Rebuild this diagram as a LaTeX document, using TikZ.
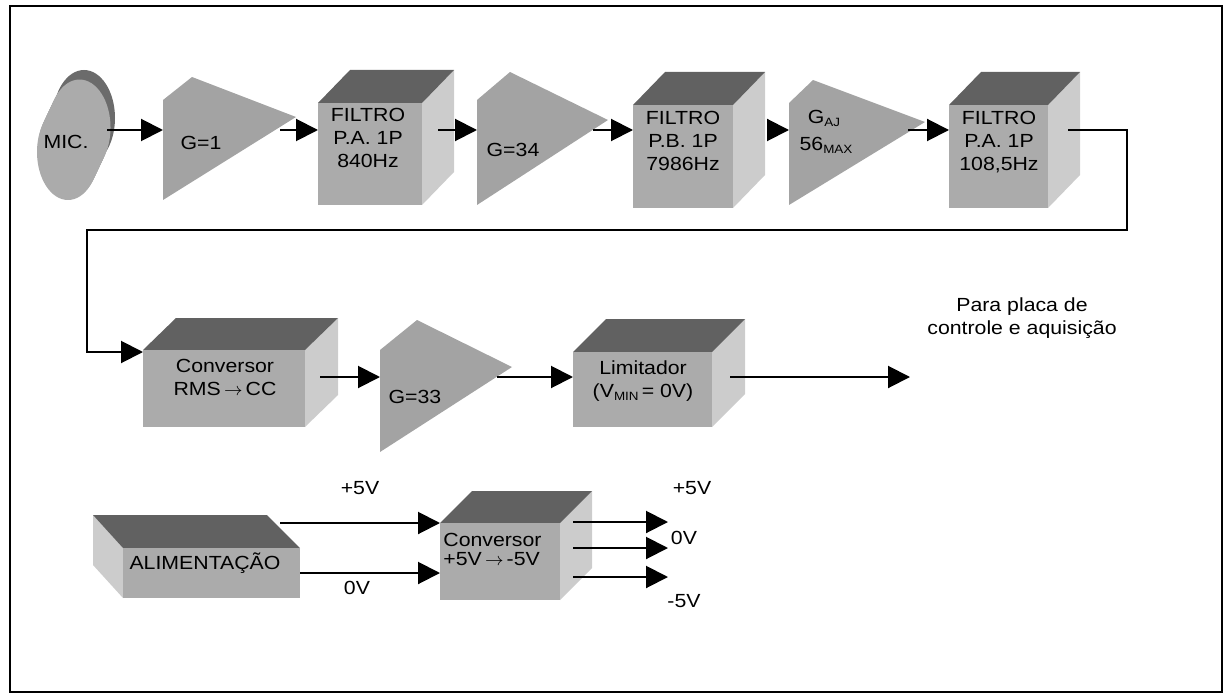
\documentclass[tikz,border=0pt]{standalone}
\usepackage{fontspec}
\setmainfont[FakeStretch=1.12]{Liberation Sans}
\usetikzlibrary{arrows.meta}
\tikzset{
  arr/.style={line width=1pt, -{Triangle[length=11pt,width=11pt]}},
  wire/.style={line width=1pt},
  frontf/.style={fill=black!33},
  topf/.style={fill=black!62},
  sidef/.style={fill=black!20},
  ampf/.style={fill=black!36},
  lbl/.style={font=\fontsize{9.5}{11.5}\selectfont, inner sep=0pt, align=center},
}
\newcommand\sub[1]{{\fontsize{6}{6}\selectfont\raisebox{-1.5pt}{#1}}}
\newcommand\rarr{\,$\rightarrow$\,}
% name, x, y, w, h  (front face, top-left corner, image pixels)
\newcommand\mybox[5]{%
  \fill[sidef] (#2+#4,#3) -- ++(32,-33) -- ++(0,#5) -- (#2+#4,#3+#5) -- cycle;
  \fill[topf] (#2,#3) -- ++(32,-33) -- ++(#4,0) -- (#2+#4,#3) -- cycle;
  \node[frontf, draw=none, inner sep=0pt, anchor=north west,
        minimum width=#4*0.5pt, minimum height=#5*0.5pt] (#1) at (#2,#3) {};
}
\begin{document}
\begin{tikzpicture}[x=0.5pt, y=-0.5pt]
\useasboundingbox (0,0) rectangle (1224,695);
\draw[line width=1pt] (10,6) rectangle (1222,692);

% ---------- row 1 ----------
% MIC cylinder
\fill[black!58] (84,118) ellipse [x radius=15.5pt, y radius=24pt];
\foreach \t in {0,0.04,...,0.72}
  \fill[black!33] ({68+16*\t},{152-34*\t}) ellipse [x radius=15.5pt, y radius=24pt];
\node[lbl] (mic) at (66,142) {MIC.};
\coordinate (micout) at (107,130);

% G=1
\fill[ampf] (163,100) -- (192,77) -- (296,117) -- (163,200) -- cycle;
\node[lbl] (g1) at (201,143) {G=1};
\coordinate (g1in) at (163,130);
\coordinate (g1out) at (280,130);

\mybox{f1}{318}{103}{104}{102}
\node[lbl, anchor=north] (f1t) at (368,108) {FILTRO\\P.A. 1P\\840Hz};
\coordinate (f1out) at (438,130);

% G=34
\fill[ampf] (477,100) -- (510,72) -- (608,120) -- (477,205) -- cycle;
\node[lbl] (g34) at (513,150) {G=34};
\coordinate (g34in) at (477,130);
\coordinate (g34out) at (593,130);

\mybox{f2}{633}{105}{100}{103}
\node[lbl, anchor=north] (f2t) at (683,111) {FILTRO\\P.B. 1P\\7986Hz};
\coordinate (f2out) at (768,130);

% G_AJ
\fill[ampf] (789,103) -- (813,80) -- (925,122) -- (789,205) -- cycle;
\node[lbl] (gaj) at (824,118) {G\sub{AJ}};
\node[lbl] (gmax) at (826,145) {56\sub{MAX}};
\coordinate (gajin) at (789,130);
\coordinate (gajout) at (908,130);

\mybox{f3}{949}{105}{99}{103}
\node[lbl, anchor=north] (f3t) at (999,111) {FILTRO\\P.A. 1P\\108,5Hz};
\coordinate (f3out) at (1068,130);

\draw[arr] (micout) -- (g1in);
\draw[arr] (g1out) -- (f1.west |- g1out);
\draw[arr] (f1out) -- (g34in);
\draw[arr] (g34out) -- (f2.west |- g34out);
\draw[arr] (f2out) -- (gajin);
\draw[arr] (gajout) -- (f3.west |- gajout);

% ---------- row 2 ----------
\fill[sidef] (305,350) -- ++(33,-32) -- ++(0,77) -- (305,427) -- cycle;
\fill[topf] (143,350) -- ++(33,-32) -- ++(162,0) -- (305,350) -- cycle;
\node[frontf, inner sep=0pt, anchor=north west, minimum width=81pt, minimum height=38.5pt] (c1) at (143,350) {};
\node[lbl, anchor=north] (c1t) at (225,359) {Conversor\\RMS\rarr CC};

\draw[arr] (f3out) -- (1127,130) -- (1127,230) -- (87,230) -- (87,352) -- (c1.west |- 0,352);

% G=33
\fill[ampf] (380,350) -- (417,320) -- (512,367) -- (380,452) -- cycle;
\node[lbl] (g33) at (415,397) {G=33};
\coordinate (c1out) at (320,377);
\coordinate (g33in) at (380,377);
\coordinate (g33out) at (497,377);
\draw[arr] (c1out) -- (g33in);

\fill[sidef] (712,352) -- ++(33,-33) -- ++(0,75) -- (712,427) -- cycle;
\fill[topf] (573,352) -- ++(33,-33) -- ++(139,0) -- (712,352) -- cycle;
\node[frontf, inner sep=0pt, anchor=north west, minimum width=69.5pt, minimum height=37.5pt] (lim) at (573,352) {};
\node[lbl, anchor=north] (limt) at (643,360) {Limitador\\(V\sub{MIN}\,= 0V)};
\draw[arr] (g33out) -- (lim.west |- g33out);

\coordinate (limout) at (730,377);
\node[lbl, align=center] (dest) at (1022,318) {Para placa de\\controle e aquisição};
\coordinate (destin) at (910,377);
\draw[arr] (limout) -- (destin);

% ---------- row 3 ----------
\fill[sidef] (123,548) -- (93,515) -- (93,565) -- (123,598) -- cycle;
\fill[topf] (123,548) -- (93,515) -- (267,515) -- (300,548) -- cycle;
\node[frontf, inner sep=0pt, anchor=north west, minimum width=88.5pt, minimum height=25pt] (alim) at (123,548) {};
\node[lbl] (alimt) at (205,563) {ALIMENTAÇÃO};

\fill[sidef] (560,523) -- ++(32,-32) -- ++(0,77) -- (560,600) -- cycle;
\fill[topf] (440,523) -- ++(32,-32) -- ++(120,0) -- (560,523) -- cycle;
\node[frontf, inner sep=0pt, anchor=north west, minimum width=60pt, minimum height=38.5pt] (c2) at (440,523) {};
\node[lbl, anchor=north west, align=left, font=\fontsize{9.5}{9.5}\selectfont] (c2t) at (443,533) {Conversor\\+5V\rarr -5V};

\coordinate (alimp) at (280,523);
\coordinate (alimz) at (300,573);
\draw[arr] (alimp) -- (c2.west |- alimp);
\draw[arr] (alimz) -- (c2.west |- alimz);
\node[lbl] (lp) at (360,488) {+5V};
\node[lbl] (lz) at (357,588) {0V};

\coordinate (o1) at (573,522);
\coordinate (o2) at (573,548);
\coordinate (o3) at (573,577);
\coordinate (e1) at (668,522);
\coordinate (e2) at (668,548);
\coordinate (e3) at (668,577);
\draw[arr] (o1) -- (e1);
\draw[arr] (o2) -- (e2);
\draw[arr] (o3) -- (e3);
\node[lbl] (op) at (692,488) {+5V};
\node[lbl] (oz) at (684,538) {0V};
\node[lbl] (om) at (684,601) {-5V};
\end{tikzpicture}
\end{document}
